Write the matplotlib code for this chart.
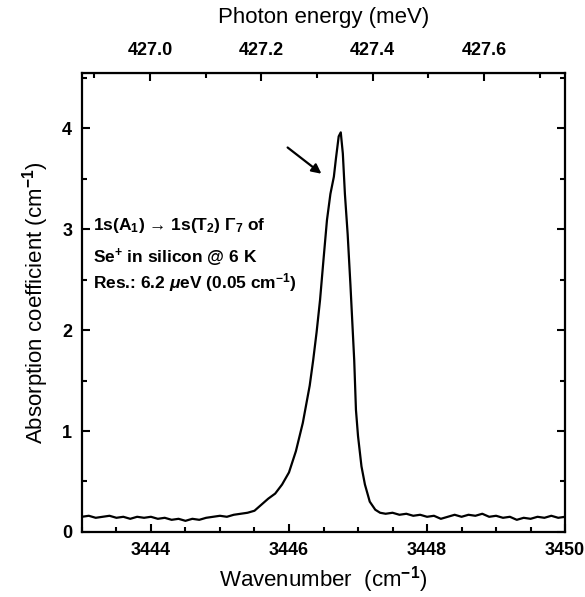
import numpy as np
import matplotlib
matplotlib.use('Agg')
import matplotlib.pyplot as plt
from matplotlib.ticker import MultipleLocator, FixedLocator, FormatStrFormatter

plt.rcParams['font.family'] = ['Liberation Sans', 'DejaVu Sans']
plt.rcParams['mathtext.fontset'] = 'custom'
plt.rcParams['mathtext.rm'] = 'Liberation Sans:bold'
plt.rcParams['mathtext.it'] = 'Liberation Sans:italic:bold'
plt.rcParams['mathtext.bf'] = 'Liberation Sans:bold'

# Spectrum (wavenumber in cm^-1, absorption in cm^-1)
wavenumber = [
    3443.0, 3443.1, 3443.2, 3443.3, 3443.4, 3443.5, 3443.6, 3443.7, 3443.8, 3443.9,
    3444.0, 3444.1, 3444.2, 3444.3, 3444.4, 3444.5, 3444.6, 3444.7, 3444.8, 3444.9,
    3445.0, 3445.1, 3445.2, 3445.3, 3445.4, 3445.5, 3445.6, 3445.7, 3445.8, 3445.9,
    3446.0, 3446.1, 3446.2, 3446.3, 3446.35, 3446.4, 3446.45, 3446.5, 3446.55, 3446.6,
    3446.65, 3446.68, 3446.72, 3446.75, 3446.78, 3446.81, 3446.85, 3446.89, 3446.945, 3446.97,
    3447.0, 3447.05, 3447.1, 3447.17, 3447.25, 3447.32, 3447.4, 3447.5, 3447.6, 3447.7,
    3447.8, 3447.9, 3448.0, 3448.1, 3448.2, 3448.3, 3448.4, 3448.5, 3448.6, 3448.7,
    3448.8, 3448.9, 3449.0, 3449.1, 3449.2, 3449.3, 3449.4, 3449.5, 3449.6, 3449.7,
    3449.8, 3449.9, 3450.0,
]
absorption = [
    0.15, 0.16, 0.14, 0.15, 0.16, 0.14, 0.15, 0.13, 0.15, 0.14,
    0.15, 0.13, 0.14, 0.12, 0.13, 0.11, 0.13, 0.12, 0.14, 0.15,
    0.16, 0.15, 0.17, 0.18, 0.19, 0.21, 0.27, 0.33, 0.38, 0.47,
    0.59, 0.80, 1.08, 1.45, 1.70, 1.98, 2.30, 2.70, 3.09, 3.35,
    3.52, 3.70, 3.92, 3.96, 3.75, 3.35, 2.95, 2.45, 1.70, 1.21,
    0.95, 0.65, 0.47, 0.30, 0.22, 0.19, 0.18, 0.19, 0.17, 0.18,
    0.16, 0.17, 0.15, 0.16, 0.13, 0.15, 0.17, 0.15, 0.17, 0.16,
    0.18, 0.15, 0.16, 0.14, 0.15, 0.12, 0.14, 0.13, 0.15, 0.14,
    0.16, 0.14, 0.15,
]
energy_ticks = [427.0, 427.2, 427.4, 427.6]
energy_minor = [426.9, 427.1, 427.3, 427.5, 427.7]

CM_TO_MEV = 0.12398419843

def to_mev(x):
    return x * CM_TO_MEV

def to_cm(e):
    return e / CM_TO_MEV

fig = plt.figure(figsize=(5.85, 5.97), dpi=100)
ax = fig.add_axes([0.140, 0.109, 0.826, 0.769])

ax.plot(wavenumber, absorption, color='black', lw=1.6)

ax.set_xlim(3443, 3450)
ax.set_ylim(0, 4.55)
ax.xaxis.set_major_locator(MultipleLocator(2))
ax.xaxis.set_minor_locator(MultipleLocator(0.5))
ax.yaxis.set_major_locator(MultipleLocator(1))
ax.yaxis.set_minor_locator(MultipleLocator(0.5))
ax.tick_params(which='both', direction='in', width=1.5, labelsize=13, right=True, pad=7)
ax.tick_params(which='major', length=6)
ax.tick_params(which='minor', length=3.5)
for lbl in ax.get_xticklabels() + ax.get_yticklabels():
    lbl.set_fontweight('bold')
for sp in ax.spines.values():
    sp.set_linewidth(1.6)

ax.set_xlabel('Wavenumber  (cm$^{-1}$)', fontsize=16, labelpad=4)
ax.set_ylabel('Absorption coefficient (cm$^{-1}$)', fontsize=16, labelpad=8)

top = ax.secondary_xaxis('top', functions=(to_mev, to_cm))
top.xaxis.set_major_locator(FixedLocator(energy_ticks))
top.xaxis.set_minor_locator(FixedLocator(energy_minor))
top.xaxis.set_major_formatter(FormatStrFormatter('%.1f'))
top.tick_params(which='both', direction='in', width=1.5, labelsize=13, pad=10)
top.tick_params(which='major', length=6)
top.tick_params(which='minor', length=3.5)
for lbl in top.get_xticklabels():
    lbl.set_fontweight('bold')
top.set_xlabel('Photon energy (meV)', fontsize=16, labelpad=14)

txt = dict(fontsize=12.5, fontweight='bold', ha='left', va='center')
ax.text(3443.16, 3.04, '1s(A$_1$) \u2192 1s(T$_2$) \u0393$_7$ of', **txt)
ax.text(3443.16, 2.72, 'Se$^{+}$ in silicon @ 6 K', **txt)
ax.text(3443.16, 2.47, r'Res.: 6.2 $\mu$eV (0.05 cm$^{-1}$)', **txt)

ax.annotate('', xy=(3446.47, 3.55), xytext=(3445.98, 3.81),
            arrowprops=dict(arrowstyle='-|>', color='black', lw=1.6,
                            mutation_scale=14, shrinkA=0, shrinkB=0))

fig.savefig('out.png', dpi=100)
